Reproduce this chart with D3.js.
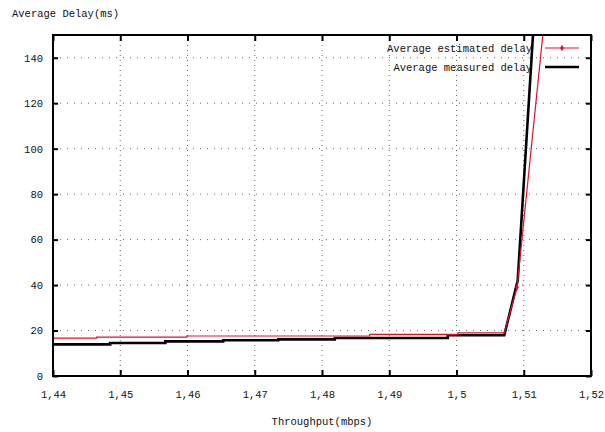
<!DOCTYPE html>
<html>
<head>
<meta charset="utf-8">
<script src="https://cdn.jsdelivr.net/npm/d3@7"></script>
<style>
  body { margin: 0; background: #fff; }
  text { font-family: "Liberation Mono", "DejaVu Sans Mono", monospace; font-size: 10.5px; fill: #111; }
</style>
</head>
<body>
<svg id="chart" width="605" height="432"></svg>
<script>
// data (steps come from repeated x values)
var estimated_x = [1.44, 1.4465, 1.4465, 1.4599, 1.4599, 1.4871, 1.4871, 1.5002, 1.5002, 1.5071, 1.509, 1.5137];
var estimated_y = [16.7, 16.7, 17.1, 17.1, 17.6, 17.6, 18.3, 18.3, 19.0, 19.0, 39, 175];

var measured_x = [1.44, 1.4485, 1.4485, 1.4567, 1.4567, 1.4653, 1.4653, 1.4735, 1.4735, 1.4819, 1.4819, 1.4987, 1.4987, 1.5071, 1.5091, 1.5119];
var measured_y = [13.9, 13.9, 14.5, 14.5, 15.25, 15.25, 15.7, 15.7, 16.1, 16.1, 16.7, 16.7, 17.9, 17.9, 42, 175];

var x_ticks = [1.44, 1.45, 1.46, 1.47, 1.48, 1.49, 1.5, 1.51, 1.52];
var y_ticks = [0, 20, 40, 60, 80, 100, 120, 140];

var series_names = ["Average estimated delay", "Average measured delay"];

var margin = {left: 53, right: 14, top: 35, bottom: 56},
    width = 605 - margin.left - margin.right,
    height = 432 - margin.top - margin.bottom;

var red = "#e0102a";

var svg = d3.select("#chart");
var g = svg.append("g").attr("transform", "translate(" + margin.left + "," + margin.top + ")");

var x = d3.scaleLinear().domain([1.44, 1.52]).range([0, width]);
var y = d3.scaleLinear().domain([0, 150]).range([height, 0]);

var fmt = function(d) { return String(+d.toFixed(2)).replace(".", ","); };

// dotted grid
g.selectAll(".gx").data(x_ticks.slice(1, -1)).enter().append("line")
  .attr("x1", function(d) { return x(d); }).attr("x2", function(d) { return x(d); })
  .attr("y1", 0).attr("y2", height)
  .attr("stroke", "#666").attr("stroke-width", 1).attr("stroke-dasharray", "1,4");

g.selectAll(".gy").data(y_ticks.slice(1)).enter().append("line")
  .attr("y1", function(d) { return y(d); }).attr("y2", function(d) { return y(d); })
  .attr("x1", 0).attr("x2", width)
  .attr("stroke", "#666").attr("stroke-width", 1).attr("stroke-dasharray", "1,6");

// axes: ticks inward on all four sides
g.append("g").attr("transform", "translate(0," + height + ")")
  .call(d3.axisBottom(x).tickValues(x_ticks).tickSize(-6).tickPadding(15).tickFormat(fmt));
g.append("g")
  .call(d3.axisTop(x).tickValues(x_ticks).tickSize(-6).tickFormat(""));
g.append("g")
  .call(d3.axisLeft(y).tickValues(y_ticks).tickSize(-5).tickPadding(10));
g.append("g").attr("transform", "translate(" + width + ",0)")
  .call(d3.axisRight(y).tickValues(y_ticks).tickSize(-5).tickFormat(""));

g.selectAll(".domain").remove();
g.selectAll(".tick line").attr("stroke", "#000").attr("stroke-width", 2);
g.selectAll(".tick text")
  .style("font-family", "Liberation Mono, DejaVu Sans Mono, monospace")
  .style("font-size", "10.5px").style("fill", "#111");

// series, clipped to plot area
svg.append("clipPath").attr("id", "clip").append("rect")
  .attr("width", width).attr("height", height);

var line = d3.line().x(function(d) { return x(d[0]); }).y(function(d) { return y(d[1]); });

var est = d3.zip(estimated_x, estimated_y);
var mea = d3.zip(measured_x, measured_y);

var plot = g.append("g").attr("clip-path", "url(#clip)");

plot.append("path").datum(mea).attr("d", line)
  .attr("fill", "none").attr("stroke", "#000").attr("stroke-width", 2.6);

plot.append("path").datum(est).attr("d", line)
  .attr("fill", "none").attr("stroke", red).attr("stroke-width", 1.2);

// point marks only show where the red line climbs
plot.selectAll(".mark").data(est.filter(function(d, i) {
    return i > 0 && d[1] - est[i - 1][1] > 5;
  })).enter().append("path")
  .attr("transform", function(d) { return "translate(" + x(d[0]) + "," + y(d[1]) + ")"; })
  .attr("d", d3.symbol().type(d3.symbolDiamond).size(12))
  .attr("fill", red);

// frame
g.append("rect").attr("width", width).attr("height", height)
  .attr("fill", "none").attr("stroke", "#000").attr("stroke-width", 2);

// legend
var legend = g.selectAll(".legend").data(series_names).enter().append("g")
  .attr("transform", function(d, i) { return "translate(0," + (13 + i * 19) + ")"; });

legend.append("text").attr("x", 479).attr("dy", "0.35em").attr("text-anchor", "end")
  .text(function(d) { return d; });
legend.append("line").attr("x1", 492).attr("x2", 526).attr("y1", 0).attr("y2", 0)
  .attr("stroke", function(d, i) { return i == 0 ? red : "#000"; })
  .attr("stroke-width", function(d, i) { return i == 0 ? 1.2 : 2.6; });
legend.filter(function(d, i) { return i == 0; }).append("path")
  .attr("transform", "translate(509,0)")
  .attr("d", d3.symbol().type(d3.symbolDiamond).size(12))
  .attr("fill", red);

// axis titles
svg.append("text").attr("x", 12).attr("y", 17).text("Average Delay(ms)");
svg.append("text").attr("x", 322).attr("y", 425).attr("text-anchor", "middle").text("Throughput(mbps)");
</script>
</body>
</html>
